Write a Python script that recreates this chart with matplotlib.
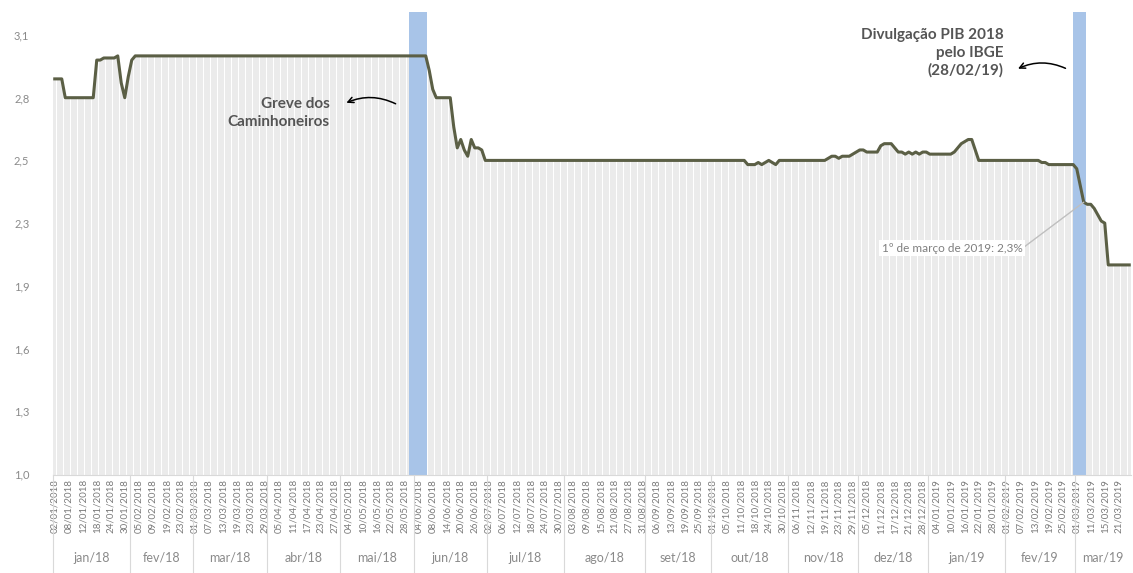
import numpy as np
import pandas as pd
import matplotlib
matplotlib.use('Agg')
import matplotlib.pyplot as plt

plt.rcParams['font.family'] = ['Lato', 'DejaVu Sans']

# dias uteis (calendario ANBIMA) de 02/01/2018 a 26/03/2019
feriados = ['2018-02-12', '2018-02-13', '2018-03-30', '2018-05-01', '2018-05-31',
            '2018-09-07', '2018-10-12', '2018-11-02', '2018-11-15', '2018-12-25',
            '2019-01-01', '2019-03-04', '2019-03-05']
datas = pd.bdate_range('2018-01-02', '2019-03-26', freq='C', holidays=feriados)

meses_pt = ['jan', 'fev', 'mar', 'abr', 'mai', 'jun',
            'jul', 'ago', 'set', 'out', 'nov', 'dez']

# expectativa Focus para o PIB 2019 (%), um valor por dia util
pib = ([2.89] * 3 + [2.80] * 9 + [2.98] * 2 + [2.99] * 4 + [3.00]
       + [2.87, 2.80, 2.90, 2.98] + [3.00] * 84
       + [2.93, 2.84] + [2.80] * 5
       + [2.66, 2.56, 2.60, 2.55, 2.52, 2.60, 2.56, 2.56, 2.55]
       + [2.50] * 75
       + [2.48, 2.48, 2.48, 2.49, 2.48, 2.49, 2.50, 2.49, 2.48]
       + [2.50] * 14
       + [2.51, 2.52, 2.52, 2.51, 2.52, 2.52, 2.52, 2.53, 2.54, 2.55,
          2.55, 2.54, 2.54, 2.54, 2.54]
       + [2.57] + [2.58] * 3
       + [2.56, 2.54, 2.54, 2.53, 2.54, 2.53, 2.54, 2.53, 2.54, 2.54]
       + [2.53] * 7
       + [2.54, 2.56, 2.58, 2.59, 2.60, 2.60, 2.55]
       + [2.50] * 18 + [2.49] * 2 + [2.48] * 8
       + [2.46, 2.38, 2.30, 2.29, 2.29, 2.27, 2.24, 2.21, 2.20]
       + [2.00] * 7)

y_ticks = [1.0, 1.3, 1.6, 1.9, 2.2, 2.5, 2.8, 3.1]
y_labels = ['1,0', '1,3', '1,6', '1,9', '2,3', '2,5', '2,8', '3,1']

n = min(len(pib), len(datas))
datas = datas[:n]
pib = pib[:n]
x = np.arange(n)

W, H = 1133, 573
fig = plt.figure(figsize=(W / 100, H / 100), dpi=100)
ax = fig.add_axes([53 / W, (H - 475) / H, 3.5 * n / W, 463 / H])

ax.bar(x, pib, width=0.8, color='#ebebeb', zorder=1)
# faixas: greve dos caminhoneiros e divulgacao do PIB
ax.axvspan(101.2, 106.3, color='#a8c4e8', lw=0, zorder=2)
ax.axvspan(290.9, 294.6, color='#a8c4e8', lw=0, zorder=2)
ax.plot(x, pib, color='#5b5f45', lw=2.2, zorder=3)

ax.set_xlim(-0.5, n - 0.5)
ax.set_ylim(0.995, 3.21)
ax.set_yticks(y_ticks)
ax.set_yticklabels(y_labels)
ax.set_xticks(x[::4])
ax.set_xticklabels([d.strftime('%d/%m/%Y') for d in datas[::4]], rotation=90)
ax.tick_params(axis='x', length=0, pad=3, labelsize=7, labelcolor='#7a7a7a')
ax.tick_params(axis='y', length=0, pad=17, labelsize=8, labelcolor='#8a8a8a')
for s in ['top', 'right', 'left']:
    ax.spines[s].set_visible(False)
ax.spines['bottom'].set_color('#d9d9d9')

# rotulos de mes (segundo nivel do eixo)
trans = ax.get_xaxis_transform()
per = datas.to_period('M')
for p in per.unique():
    idx = np.where(per == p)[0]
    ax.text((idx[0] + idx[-1]) / 2, -0.179, f"{meses_pt[p.month - 1]}/{str(p.year)[2:]}",
            transform=trans, ha='center', va='center', fontsize=9, color='#8a8a8a')
    ax.plot([idx[0] - 0.5] * 2, [0, -0.215], transform=trans, color='#d9d9d9',
            lw=0.8, clip_on=False)

ax.text(78.6, 2.725, 'Greve dos\nCaminhoneiros', ha='right', va='center',
        multialignment='right', fontsize=11, fontweight='bold', color='#555555',
        linespacing=1.35)
ax.annotate('', xy=(82.6, 2.77), xytext=(98.1, 2.765),
            arrowprops=dict(arrowstyle='->', color='black', lw=1.1,
                            connectionstyle='arc3,rad=0.25'))

ax.text(271, 3.014, 'Divulgação PIB 2018\npelo IBGE\n(28/02/19)', ha='right',
        va='center', multialignment='right', fontsize=11, fontweight='bold',
        color='#555555', linespacing=1.3)
ax.annotate('', xy=(274.5, 2.933), xytext=(289.5, 2.935),
            arrowprops=dict(arrowstyle='->', color='black', lw=1.1,
                            connectionstyle='arc3,rad=0.25'))

ax.annotate('1º de março de 2019: 2,3%', xy=(294, 2.30), xytext=(256.4, 2.08),
            ha='center', va='center', fontsize=8.5, color='#7f7f7f',
            bbox=dict(boxstyle='square,pad=0.2', fc='white', ec='none'),
            arrowprops=dict(arrowstyle='-', color='#bfbfbf', lw=1,
                            relpos=(1, 0.5), shrinkA=0, shrinkB=0),
            zorder=4)

fig.savefig('out.png', dpi=100)
